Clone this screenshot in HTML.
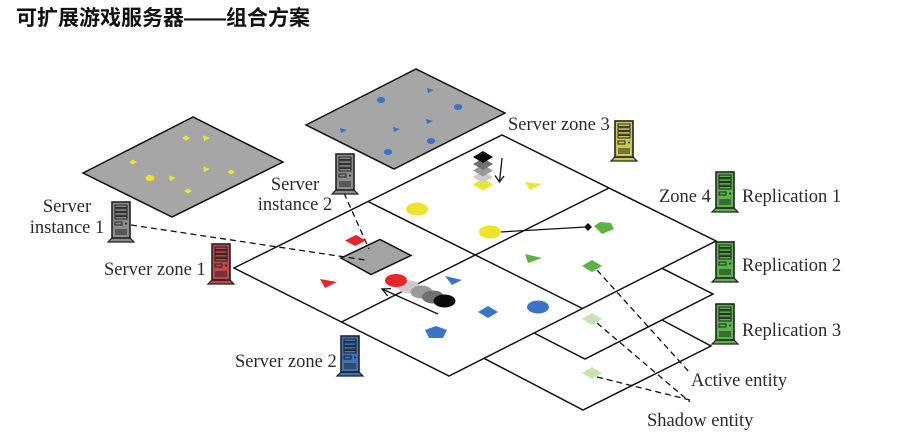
<!DOCTYPE html>
<html>
<head>
<meta charset="utf-8">
<style>
  html, body { margin: 0; padding: 0; background: #ffffff; }
  body { width: 904px; height: 438px; overflow: hidden; }
  svg { display: block; }
  .lbl { font-family: "Liberation Serif", "Noto Serif CJK SC", serif; font-size: 18.5px; fill: #2a2a2a; }
  .title { font-family: "Liberation Sans", "Noto Sans CJK SC", sans-serif; font-size: 21px; font-weight: bold; fill: #111; }
</style>
</head>
<body>
<svg width="904" height="438" viewBox="0 0 904 438" xmlns="http://www.w3.org/2000/svg">
  <defs>
    <g id="srv">
      <polygon points="0,36 18,36 22,40 -4,40" fill="currentColor" stroke="#222" stroke-width="1.2"/>
      <rect x="0" y="0" width="18" height="36" fill="currentColor" stroke="#222" stroke-width="1.6"/>
      <rect x="3" y="3" width="12" height="2.6" fill="currentColor" stroke="#222" stroke-width="1"/>
      <rect x="3" y="6.8" width="12" height="2.6" fill="currentColor" stroke="#222" stroke-width="1"/>
      <rect x="3" y="10.6" width="12" height="2.6" fill="currentColor" stroke="#222" stroke-width="1"/>
      <rect x="3" y="14.4" width="12" height="2.6" fill="currentColor" stroke="#222" stroke-width="1"/>
      <rect x="3" y="20" width="7" height="3" fill="none" stroke="#222" stroke-width="1"/>
      <circle cx="14" cy="21.5" r="1" fill="#222"/>
      <g stroke="#222" stroke-width="1">
        <line x1="4" y1="27" x2="4" y2="33"/>
        <line x1="6" y1="27" x2="6" y2="33"/>
        <line x1="8" y1="27" x2="8" y2="33"/>
        <line x1="10" y1="27" x2="10" y2="33"/>
        <line x1="12" y1="27" x2="12" y2="33"/>
        <line x1="14" y1="27" x2="14" y2="33"/>
      </g>
    </g>
  </defs>

  <!-- Title -->
  <text class="title" x="16" y="25">可扩展游戏服务器——组合方案</text>

  <!-- Gray plates -->
  <polygon points="83,173 193,117 283,162 172,217" fill="#a6a6a6" stroke="#111" stroke-width="1.5"/>
  <polygon points="306,125 416,69 505,113 394,169" fill="#a6a6a6" stroke="#111" stroke-width="1.5"/>

  <!-- left plate yellow entities -->
  <g fill="#ece52a">
    <polygon points="182,138 186,135.5 190,138 186,140.5"/>
    <polygon points="203,135.5 210,138 204,141"/>
    <polygon points="129,162 133,159.5 137,162 133,164.5"/>
    <polygon points="203,166.5 210,169 204,172"/>
    <polygon points="227,172 231,169.5 235,172 231,174.5"/>
    <ellipse cx="150" cy="178" rx="4.5" ry="3"/>
    <polygon points="169,175.5 176,178 170,181"/>
    <polygon points="184,191 188,188.5 192,191 188,193.5"/>
  </g>
  <!-- right plate blue entities -->
  <g fill="#3a74c4">
    <polygon points="427,88 434,90 428,93"/>
    <ellipse cx="381" cy="100" rx="4.2" ry="3"/>
    <polygon points="426,119 433,121 427,124"/>
    <polygon points="393,127 400,129 394,132"/>
    <polygon points="340,128 347,130 341,133"/>
    <ellipse cx="431" cy="141" rx="4.2" ry="3"/>
    <ellipse cx="388" cy="152" rx="4.2" ry="3"/>
    <ellipse cx="458" cy="107" rx="4.2" ry="3"/>
  </g>

  <!-- Replication layers (visible portions) -->
  <polyline points="662,268.3 713,294 585,359 534,333" fill="none" stroke="#111" stroke-width="1.5"/>
  <polyline points="662,320 711,346 583,410 484,358.3" fill="none" stroke="#111" stroke-width="1.5"/>

  <!-- Main plane -->
  <polygon points="234,268 502,135 716,241 449,376" fill="#ffffff" stroke="#111" stroke-width="1.5"/>
  <line x1="368" y1="201.5" x2="582.5" y2="308.5" stroke="#111" stroke-width="1.5"/>
  <line x1="341.5" y1="322" x2="609" y2="188" stroke="#111" stroke-width="1.5"/>

  <!-- small gray square -->
  <polygon points="341,258 380,239.5 411,255.5 371,274.5" fill="#a3a3a3" stroke="#111" stroke-width="1.5"/>

  <!-- dashed lines -->
  <g stroke="#111" stroke-width="1.3" stroke-dasharray="6,4" fill="none">
    <line x1="131" y1="225" x2="365" y2="260"/>
    <line x1="344" y1="193" x2="369" y2="249"/>
    <line x1="597" y1="270" x2="690" y2="373"/>
    <line x1="597" y1="323" x2="690" y2="402"/>
    <line x1="597" y1="377" x2="690" y2="400"/>
  </g>

  <!-- stack of diamonds -->
  <polygon points="473,184.5 483,178.5 493,184.5 483,190.5" fill="#ece52a"/>
  <polygon points="473,177 483,171 493,177 483,183" fill="#cccccc"/>
  <polygon points="473,170.5 483,164.5 493,170.5 483,176.5" fill="#9a9a9a"/>
  <polygon points="473,164 483,158 493,164 483,170" fill="#707070"/>
  <polygon points="473,157 483,151 493,157 483,163" fill="#0a0a0a"/>
  <!-- arrow down -->
  <line x1="502" y1="158" x2="499.5" y2="182" stroke="#111" stroke-width="1.3"/>
  <polyline points="495,175.5 499.5,182 504,176" fill="none" stroke="#111" stroke-width="1.3"/>

  <!-- yellow entities main -->
  <polygon points="525,182 542,184 530,190" fill="#ece52a"/>
  <ellipse cx="417" cy="209" rx="11" ry="6.5" fill="#ece52a"/>
  <line x1="500" y1="232" x2="586" y2="227" stroke="#111" stroke-width="1.3"/>
  <ellipse cx="490" cy="232" rx="11" ry="6.5" fill="#ece52a"/>
  <polygon points="584,227 588,223 592,227 588,231" fill="#111"/>
  <polygon points="594,226 600,222 611,223 614,229 602,234" fill="#5cb440"/>

  <!-- red entities -->
  <polygon points="345,240.5 356,235 366,240.5 355,246" fill="#e8262a"/>
  <polygon points="320,279 337,282 325,288" fill="#e8262a"/>

  <!-- chain of circles -->
  <ellipse cx="409" cy="287" rx="11" ry="6.5" fill="#cccccc"/>
  <ellipse cx="421.5" cy="292" rx="11" ry="6.5" fill="#9a9a9a"/>
  <ellipse cx="433" cy="297" rx="11" ry="6.5" fill="#707070"/>
  <ellipse cx="444.5" cy="301" rx="11" ry="6.5" fill="#0a0a0a"/>
  <ellipse cx="396" cy="280.5" rx="11" ry="6.5" fill="#e8262a"/>
  <!-- arrow left -->
  <line x1="438" y1="314" x2="382" y2="289" stroke="#111" stroke-width="1.3"/>
  <polyline points="391,288.6 382,289 387.7,296" fill="none" stroke="#111" stroke-width="1.3"/>

  <!-- blue entities main -->
  <polygon points="445,276 462,280 452,285" fill="#3a74c4"/>
  <polygon points="478,312 488,306 498,312 488,318" fill="#3a74c4"/>
  <ellipse cx="538" cy="307" rx="11" ry="6.5" fill="#3a74c4"/>
  <polygon points="436,326 447,330 443,338 429,338 425,330" fill="#3a74c4"/>

  <!-- green entities -->
  <polygon points="525,254 542,258 528,263" fill="#5cb440"/>
  <polygon points="582,266 592,260 602,266 592,272" fill="#5cb440"/>
  <polygon points="582,319 592,313 602,319 592,325" fill="#c6e4b2"/>
  <polygon points="582,373 592,367 602,373 592,379" fill="#c6e4b2"/>

  <!-- server icons -->
  <use href="#srv" x="336" y="154" style="color:#8c8c8c"/>
  <use href="#srv" x="615" y="121" style="color:#cbc852"/>
  <use href="#srv" x="716" y="172" style="color:#57b54a"/>
  <use href="#srv" x="716" y="242" style="color:#57b54a"/>
  <use href="#srv" x="716" y="304" style="color:#57b54a"/>
  <use href="#srv" x="112" y="202" style="color:#8c8c8c"/>
  <use href="#srv" x="212" y="244" style="color:#c0474a"/>
  <use href="#srv" x="341" y="336" style="color:#3d72b8"/>

  <!-- labels -->
  <text class="lbl" x="67" y="212" text-anchor="middle">Server</text>
  <text class="lbl" x="67" y="233" text-anchor="middle">instance 1</text>
  <text class="lbl" x="295" y="190" text-anchor="middle">Server</text>
  <text class="lbl" x="295" y="210" text-anchor="middle">instance 2</text>
  <text class="lbl" x="104" y="275">Server zone 1</text>
  <text class="lbl" x="235" y="367">Server zone 2</text>
  <text class="lbl" x="508" y="130">Server zone 3</text>
  <text class="lbl" x="659" y="202">Zone 4</text>
  <text class="lbl" x="742" y="202">Replication 1</text>
  <text class="lbl" x="742" y="271">Replication 2</text>
  <text class="lbl" x="742" y="336">Replication 3</text>
  <text class="lbl" x="691" y="386">Active entity</text>
  <text class="lbl" x="647" y="426">Shadow entity</text>
</svg>
</body>
</html>
